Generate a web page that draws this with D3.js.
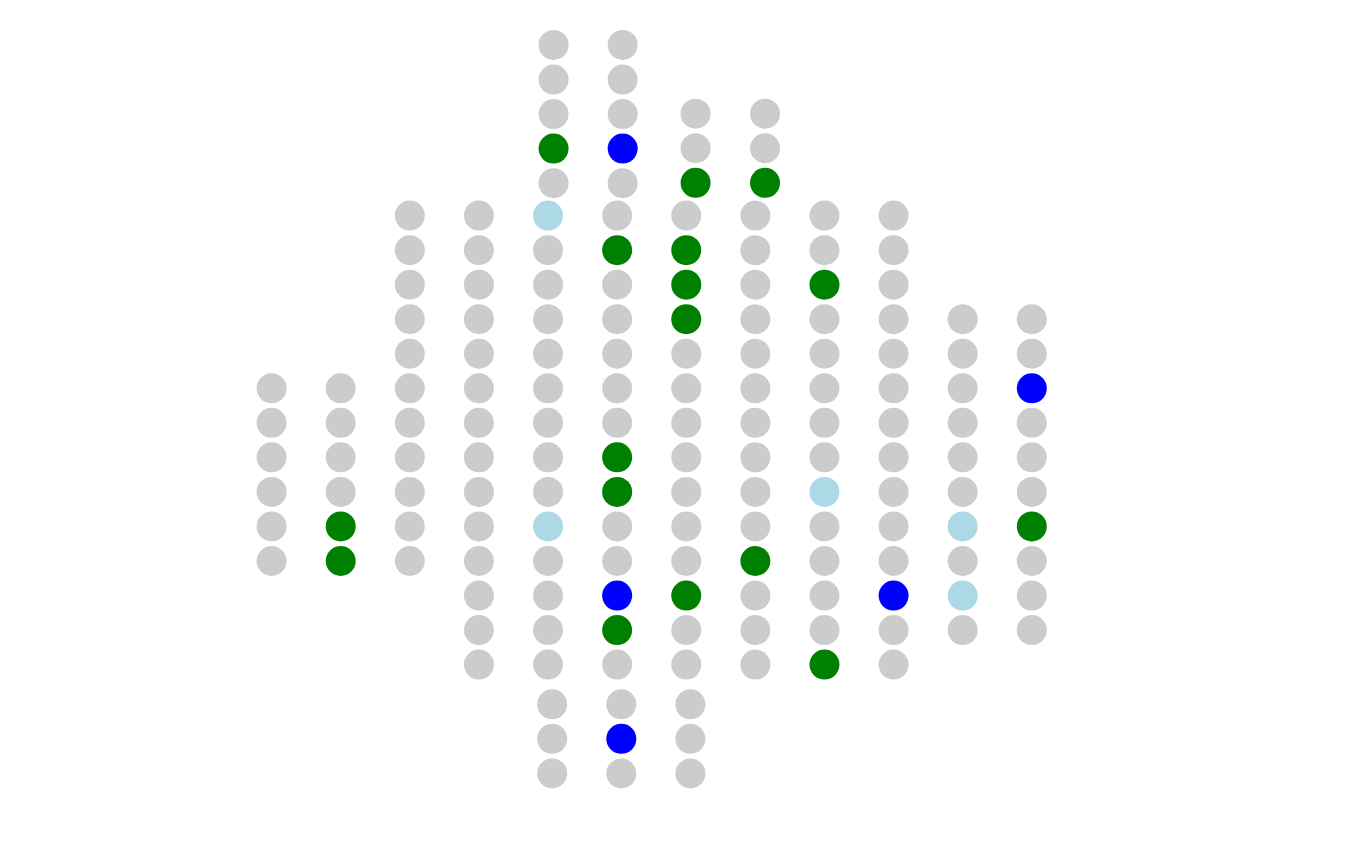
<!DOCTYPE html>
<html>
<head>
<meta charset="utf-8">
<script src="https://cdn.jsdelivr.net/npm/d3@7"></script>
<style>
  html, body { margin: 0; padding: 0; background: #ffffff; }
  svg { display: block; }
</style>
</head>
<body>
<svg id="chart" width="1351" height="862"></svg>
<script>
// Colour codes: g = other (grey), G = green, B = blue, L = light blue
const categoryCodes = ["g", "G", "B", "L"];
const categoryColors = ["#cccccc", "#008000", "#0000ff", "#add8e6"];

// Main grid: column index, first row index, codes top-to-bottom
const mainColumns = [0, 1, 2, 3, 4, 5, 6, 7, 8, 9, 10, 11];
const mainStartRows = [5, 5, 0, 0, 0, 0, 0, 0, 0, 0, 3, 3];
const mainValues = [
  "gggggg",
  "ggggGG",
  "ggggggggggg",
  "gggggggggggggg",
  "LggggggggLgggg",
  "gGgggggGGggBGg",
  "gGGGgggggggGgg",
  "ggggggggggGggg",
  "ggGgggggLggggG",
  "gggggggggggBgg",
  "ggggggLgLg",
  "ggBgggGggg"
];

// Upper cluster A (offset columns)
const topAColumns = [4.08, 5.08];
const topAStartRows = [-4.94, -4.94];
const topAValues = ["gggGg", "gggBg"];

// Upper cluster B
const topBColumns = [6.135, 7.14];
const topBStartRows = [-2.95, -2.95];
const topBValues = ["ggG", "ggG"];

// Lower cluster
const bottomColumns = [4.06, 5.06, 6.06];
const bottomStartRows = [14.15, 14.15, 14.15];
const bottomValues = ["ggg", "gBg", "ggg"];

const svg = d3.select("#chart");
const x = d3.scaleLinear().domain([0, 11]).range([271.6, 1031.8]);
const y = d3.scaleLinear().domain([0, 13]).range([215.6, 664.6]);
const color = d3.scaleOrdinal().domain(categoryCodes).range(categoryColors);
const r = 15;

function buildDots(cols, starts, vals) {
  const out = [];
  cols.forEach((c, i) => {
    vals[i].split("").forEach((code, k) => {
      out.push({ col: c, row: starts[i] + k, code });
    });
  });
  return out;
}

const dots = [].concat(
  buildDots(mainColumns, mainStartRows, mainValues),
  buildDots(topAColumns, topAStartRows, topAValues),
  buildDots(topBColumns, topBStartRows, topBValues),
  buildDots(bottomColumns, bottomStartRows, bottomValues)
);

svg.append("g")
  .selectAll("circle")
  .data(dots)
  .join("circle")
  .attr("cx", d => x(d.col))
  .attr("cy", d => y(d.row))
  .attr("r", r)
  .attr("fill", d => color(d.code));
</script>
</body>
</html>
